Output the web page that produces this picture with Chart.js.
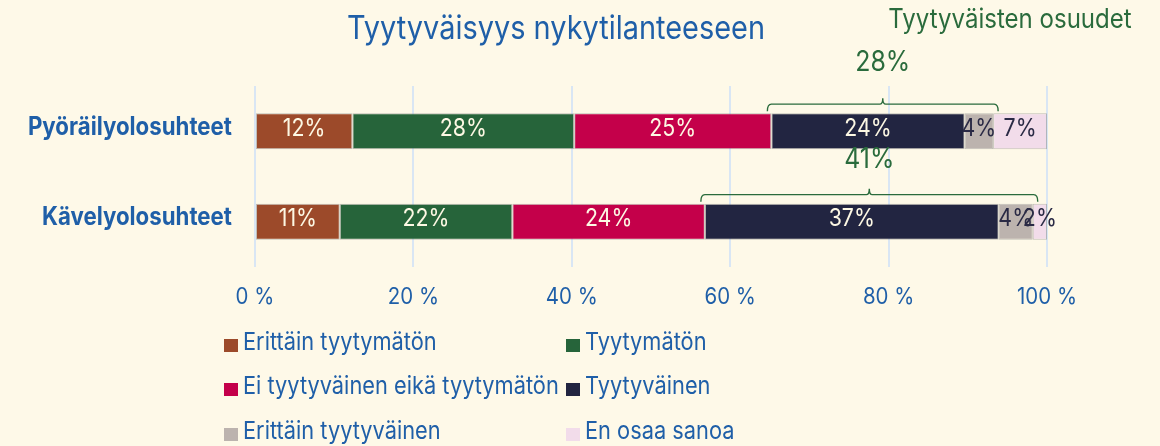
<!DOCTYPE html>
<html>
<head>
<meta charset="utf-8">
<script src="https://cdn.jsdelivr.net/npm/chart.js@4"></script>
<style>
  html, body { margin: 0; padding: 0; background: #fef9e8; }
  #wrap { width: 1160px; height: 446px; }
</style>
</head>
<body>
<div id="wrap"><canvas id="satisfactionChart" width="1160" height="446"></canvas></div>
<script>
// data
const categories = ['Pyöräilyolosuhteet', 'Kävelyolosuhteet'];
const seriesNames = ['Erittäin tyytymätön', 'Tyytymätön', 'Ei tyytyväinen eikä tyytymätön', 'Tyytyväinen', 'Erittäin tyytyväinen', 'En osaa sanoa'];
const pyorailyValues = [12.3, 28.0, 24.9, 24.4, 3.6, 6.8];
const kavelyValues = [10.7, 21.8, 24.3, 37.1, 4.3, 1.8];
const pyorailyLabels = [12, 28, 25, 24, 4, 7];
const kavelyLabels = [11, 22, 24, 37, 4, 2];
const xTicks = [0, 20, 40, 60, 80, 100];

const seriesColors = ['#9c4a2a', '#26643a', '#c4004a', '#222541', '#bcb3ae', '#f2dcea'];
const labelColors = ['#fdf8e4', '#fdf8e4', '#fdf8e4', '#fdf8e4', '#2a2a45', '#2a2a45'];
const BLUE = '#1f5fa8';
const GREEN = '#2a6b3c';
const FONT = 'Inter, "Noto Sans", sans-serif';
const SQUISH = 0.89; // text in the original is a bit narrow

const valueRows = [pyorailyValues, kavelyValues];
const labelRows = [pyorailyLabels, kavelyLabels];

const datasets = seriesNames.map(function (name, i) {
    return {
        label: name,
        data: valueRows.map(row => row[i]),
        backgroundColor: seriesColors[i],
        borderColor: 'rgba(140, 140, 140, 0.55)',
        borderWidth: 1,
        borderSkipped: false,
        barPercentage: 0.8,
        categoryPercentage: 0.5
    };
});

function drawText(ctx, text, x, y, align, font, color) {
    ctx.save();
    ctx.font = font;
    ctx.fillStyle = color;
    ctx.textAlign = align;
    ctx.textBaseline = 'middle';
    ctx.translate(x, y);
    ctx.scale(SQUISH, 1);
    ctx.fillText(text, 0, 0);
    ctx.restore();
}

// axis labels drawn by hand so they can be narrowed like the original
const axisTextPlugin = {
    id: 'axisText',
    afterDraw(chart) {
        const ctx = chart.ctx;
        const xs = chart.scales.x;
        const ys = chart.scales.y;
        categories.forEach(function (cat, j) {
            drawText(ctx, cat, 232, ys.getPixelForValue(j) - 4, 'right', 'bold 25px ' + FONT, BLUE);
        });
        xTicks.forEach(function (v) {
            drawText(ctx, v + ' %', xs.getPixelForValue(v), 297, 'center', '23px ' + FONT, BLUE);
        });
    }
};

// segment percentages inside the bars
const valueLabelsPlugin = {
    id: 'valueLabels',
    afterDatasetsDraw(chart) {
        const ctx = chart.ctx;
        chart.data.datasets.forEach(function (ds, i) {
            const meta = chart.getDatasetMeta(i);
            meta.data.forEach(function (bar, j) {
                drawText(ctx, labelRows[j][i] + '%', (bar.x + bar.base) / 2, bar.y - 2.5,
                    'center', '24px ' + FONT, labelColors[i]);
            });
        });
    }
};

// titles, brackets for satisfied share, legend
const decorPlugin = {
    id: 'decor',
    afterDraw(chart) {
        const ctx = chart.ctx;
        const xs = chart.scales.x;

        drawText(ctx, 'Tyytyväisyys nykytilanteeseen', 556, 29, 'center', '32.5px ' + FONT, BLUE);
        drawText(ctx, 'Tyytyväisten osuudet', 1010, 20, 'center', '27px ' + FONT, GREEN);

        // brackets over Tyytyväinen + Erittäin tyytyväinen
        const lift = [51, 44];
        const meta = chart.getDatasetMeta(0);
        meta.data.forEach(function (bar, j) {
            const row = valueRows[j];
            let start = 0;
            for (let k = 0; k < 3; k++) start += row[k];
            const end = start + row[3] + row[4];
            const x1 = xs.getPixelForValue(start) - 4;
            const x2 = xs.getPixelForValue(end) + 5;
            const top = bar.y - bar.height / 2;
            const y = top - 9;
            const mid = (x1 + x2) / 2;
            ctx.save();
            ctx.strokeStyle = GREEN;
            ctx.lineWidth = 1.4;
            ctx.beginPath();
            ctx.moveTo(x1, y + 7);
            ctx.quadraticCurveTo(x1, y, x1 + 4, y);
            ctx.lineTo(mid - 3, y);
            ctx.quadraticCurveTo(mid, y, mid, y - 6);
            ctx.quadraticCurveTo(mid, y, mid + 3, y);
            ctx.lineTo(x2 - 4, y);
            ctx.quadraticCurveTo(x2, y, x2, y + 7);
            ctx.stroke();
            ctx.restore();

            drawText(ctx, (labelRows[j][3] + labelRows[j][4]) + '%', mid, top - lift[j],
                'center', '28px ' + FONT, GREEN);
        });

        // legend, two columns
        const colX = [224, 566];
        const rowY = [343, 387, 432];
        seriesNames.forEach(function (name, i) {
            const x = colX[i % 2];
            const y = rowY[Math.floor(i / 2)];
            ctx.fillStyle = seriesColors[i];
            ctx.fillRect(x, y - 4, 14, 13);
            drawText(ctx, name, x + 19, y, 'left', '24.5px ' + FONT, BLUE);
        });
    }
};

const ctx = document.getElementById('satisfactionChart').getContext('2d');
new Chart(ctx, {
    type: 'bar',
    data: {
        labels: categories,
        datasets: datasets
    },
    options: {
        indexAxis: 'y',
        responsive: false,
        animation: false,
        layout: {
            padding: { top: 86, right: 113, bottom: 129, left: 0 }
        },
        plugins: {
            legend: { display: false },
            tooltip: { enabled: false }
        },
        scales: {
            x: {
                stacked: true,
                min: 0,
                max: 100,
                afterBuildTicks: function (scale) {
                    scale.ticks = xTicks.map(v => ({ value: v }));
                },
                afterFit: function (scale) { scale.height = 50; },
                ticks: { display: false },
                grid: { color: '#d9e6f4', lineWidth: 2, drawTicks: false },
                border: { display: false }
            },
            y: {
                stacked: true,
                afterFit: function (scale) { scale.width = 255; },
                ticks: { display: false },
                grid: { display: false, drawTicks: false },
                border: { display: false }
            }
        }
    },
    plugins: [valueLabelsPlugin, axisTextPlugin, decorPlugin]
});
</script>
</body>
</html>
